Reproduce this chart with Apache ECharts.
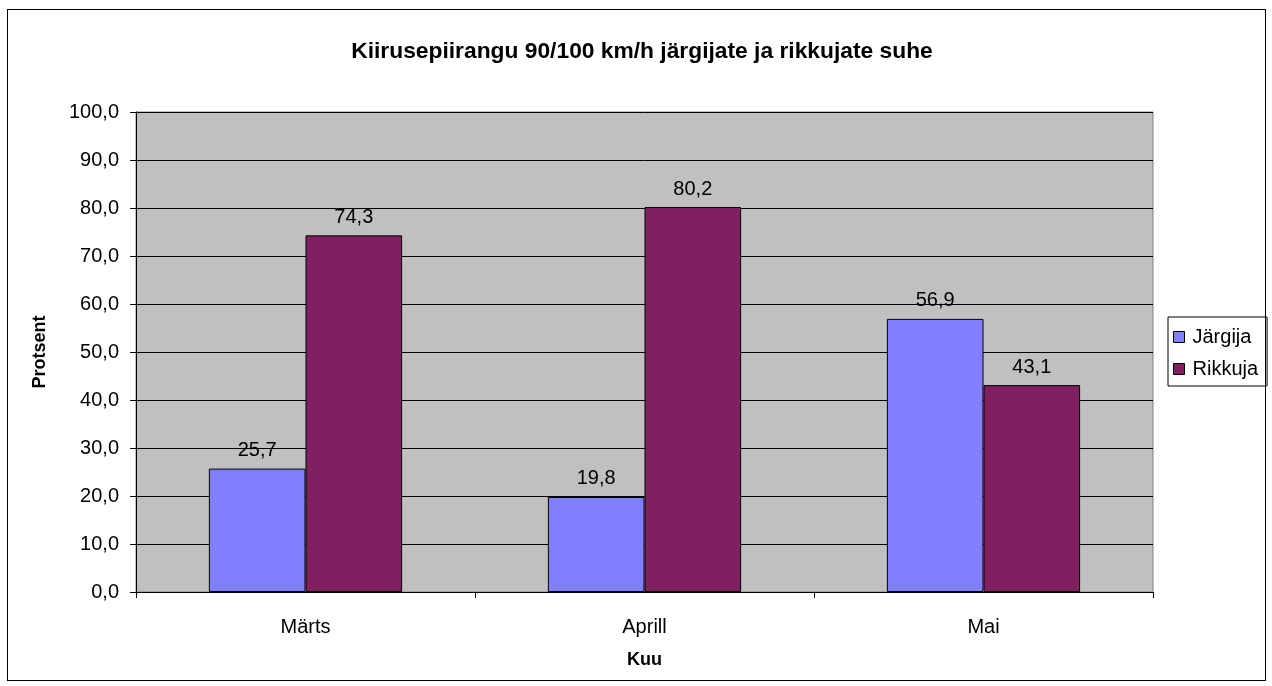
<!DOCTYPE html>
<html><head><meta charset="utf-8">
<script src="https://cdn.jsdelivr.net/npm/echarts@6/dist/echarts.min.js"></script>
<style>html,body{margin:0;padding:0;background:#fff}#c{width:1272px;height:686px}
#frame{position:absolute;left:7px;top:9px;width:1257px;height:670px;border:1px solid #000;pointer-events:none}</style>
</head><body><div id="c"></div><div id="frame"></div>
<script>
const categories = ['Märts', 'Aprill', 'Mai'];
const jargija = [25.7, 19.8, 56.9];
const rikkuja = [74.3, 80.2, 43.1];
const seriesNames = ['Järgija', 'Rikkuja'];
const titleText = 'Kiirusepiirangu 90/100 km/h järgijate ja rikkujate suhe';

const chart = echarts.init(document.getElementById('c'));
const F = 'Liberation Sans, Arial, sans-serif';
const lbl = {show: true, position: 'top', color: '#000', fontFamily: F, fontSize: 20, distance: 8,
  formatter: p => p.value.toFixed(1).replace('.', ',')};
chart.setOption({
  animation: false,
  title: {text: titleText, left: 637, top: 35, textAlign: 'center',
    textStyle: {fontFamily: F, fontSize: 22.8, fontWeight: 'bold', color: '#000'}},
  legend: {left: 1168, top: 317, orient: 'vertical', icon: 'rect', itemWidth: 11, itemHeight: 11, itemGap: 12,
    padding: [10, 9, 7, 5], borderColor: '#000', borderWidth: 1,
    itemStyle: {borderColor: '#000', borderWidth: 1},
    textStyle: {fontFamily: F, fontSize: 20, color: '#000', padding: [0, 0, 0, 3]}, data: seriesNames},
  grid: {left: 136, right: 119, top: 112, bottom: 94, show: true, backgroundColor: '#C0C0C0', borderColor: '#808080', borderWidth: 1},
  xAxis: {type: 'category', data: categories, name: 'Kuu', nameLocation: 'middle', nameGap: 59,
    nameTextStyle: {fontFamily: F, fontSize: 18, fontWeight: 'bold', color: '#000'},
    axisLine: {lineStyle: {color: '#000', width: 1}}, axisTick: {show: true, length: 6, lineStyle: {color: '#000'}},
    axisLabel: {fontFamily: F, fontSize: 20, color: '#000', margin: 25}},
  yAxis: {type: 'value', min: 0, max: 100, interval: 10, name: 'Protsent', nameLocation: 'middle', nameGap: 87,
    nameTextStyle: {fontFamily: F, fontSize: 18, fontWeight: 'bold', color: '#000'},
    axisLine: {show: true, lineStyle: {color: '#000'}}, axisTick: {show: true, length: 6, lineStyle: {color: '#000'}},
    splitLine: {lineStyle: {color: '#000', width: 1}},
    axisLabel: {fontFamily: F, fontSize: 20, color: '#000', margin: 17, formatter: v => v.toFixed(1).replace('.', ',')}},
  series: [
    {name: seriesNames[0], type: 'bar', data: jargija, barGap: '0%', barCategoryGap: '43%',
      itemStyle: {color: '#8080FF', borderColor: '#000', borderWidth: 1}, label: lbl},
    {name: seriesNames[1], type: 'bar', data: rikkuja,
      itemStyle: {color: '#802060', borderColor: '#000', borderWidth: 1}, label: lbl}
  ]
});
</script></body></html>
